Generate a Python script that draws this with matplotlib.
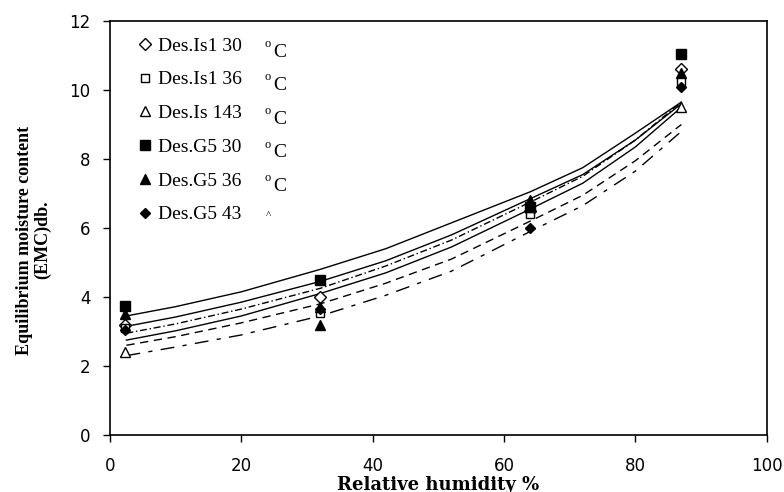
import numpy as np
import matplotlib.pyplot as plt

# measured points (relative humidity %, EMC db)
rh = [2.3, 32, 64, 87]
is1_30 = [3.2, 4.0, 6.5, 10.6]
is1_36 = [3.1, 3.55, 6.4, 10.25]
is1_43 = [2.4, 3.7, 6.6, 9.5]
g5_30 = [3.75, 4.5, 6.6, 11.05]
g5_36 = [3.5, 3.2, 6.8, 10.5]
g5_43 = [3.05, 3.65, 6.0, 10.1]

labels = ["Des.Is1 30", "Des.Is1 36", "Des.Is 143", "Des.G5 30", "Des.G5 36", "Des.G5 43"]
units = ["C", "C", "C", "C", "C", ""]

# fitted curves
rh_fit = [2.5, 10, 20, 32, 42, 52, 64, 72, 80, 87]
fit1 = [3.45, 3.72, 4.15, 4.8, 5.4, 6.15, 7.05, 7.75, 8.75, 9.65]
fit2 = [3.15, 3.42, 3.85, 4.45, 5.05, 5.8, 6.85, 7.55, 8.55, 9.6]
fit3 = [2.75, 3.02, 3.45, 4.1, 4.7, 5.45, 6.55, 7.3, 8.35, 9.5]
fit4 = [2.95, 3.22, 3.65, 4.25, 4.9, 5.65, 6.75, 7.5, 8.55, 9.65]
fit5 = [2.6, 2.85, 3.25, 3.8, 4.4, 5.1, 6.2, 6.95, 7.95, 9.0]
fit6 = [2.3, 2.55, 2.9, 3.45, 4.05, 4.75, 5.9, 6.65, 7.65, 8.8]

serif = "Liberation Serif"

fig = plt.figure(figsize=(7.84, 4.92), dpi=100)
ax = fig.add_axes([0.1403, 0.1159, 0.8377, 0.8414])

styles = [(fit1, "-"), (fit2, "-"), (fit3, "-"),
          (fit4, (0, (5, 2, 1, 2))), (fit5, (0, (6, 4))), (fit6, (0, (10, 6, 3, 6)))]
for ys, ls in styles:
    ax.plot(rh_fit, ys, color="black", lw=1.0, ls=ls)

series = [
    (is1_30, "D", "white", 6),
    (is1_36, "s", "white", 6),
    (is1_43, "^", "white", 7),
    (g5_30, "s", "black", 7),
    (g5_36, "^", "black", 7),
    (g5_43, "D", "black", 5.5),
]
for (ys, m, fc, ms), lab in zip(series, labels):
    ax.plot(rh, ys, ls="none", marker=m, mfc=fc, mec="black", mew=1.0, ms=ms, label=lab)

ax.set_xlim(0, 100)
ax.set_ylim(0, 12)
ax.set_xticks(np.arange(0, 101, 20))
ax.set_yticks(np.arange(0, 13, 2))
ax.tick_params(direction="out", length=5, width=1, labelsize=12, colors="black")
ax.tick_params(axis="x", pad=11)
ax.tick_params(axis="y", pad=9)
for s in ax.spines.values():
    s.set_linewidth(1.2)

ax.set_xlabel("Relative humidity %", fontfamily="DejaVu Serif", fontweight="bold", fontsize=13)
ax.xaxis.set_label_coords(0.5, -0.098)
ax.set_ylabel("Equilibrium moisture content\n(EMC)db.", fontfamily=serif, fontweight="bold",
              fontsize=13, linespacing=1.05)
ax.yaxis.set_label_coords(-0.09, 0.471)

leg = ax.legend(loc="upper left", bbox_to_anchor=(0.03, 0.98), frameon=False,
                prop={"family": serif, "size": 14}, handlelength=0.8, handletextpad=0.25,
                labelspacing=0.83, borderaxespad=0)

# degree celsius marks next to each legend row
row0 = 0.937
step = 0.0812
for i, u in enumerate(units):
    y = row0 - i * step
    if u:
        ax.text(0.236, y + 0.008, "o", transform=ax.transAxes, fontfamily=serif, fontsize=9,
                va="center", ha="left")
        ax.text(0.248, y - 0.012, u, transform=ax.transAxes, fontfamily=serif, fontsize=14,
                va="center", ha="left")
    else:
        ax.text(0.238, y - 0.002, "^", transform=ax.transAxes, fontfamily=serif, fontsize=8,
                va="center", ha="left")

fig.savefig("out.png", dpi=100)
